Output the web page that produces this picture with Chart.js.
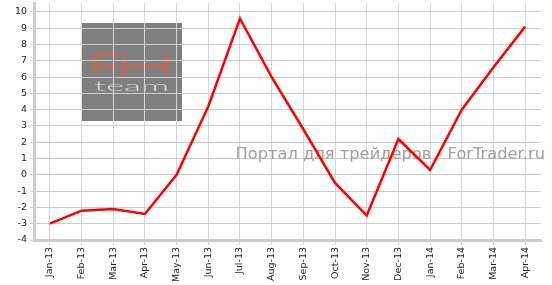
<!DOCTYPE html>
<html>
<head>
<meta charset="utf-8">
<script src="https://cdn.jsdelivr.net/npm/chart.js@4"></script>
<style>
  html, body { margin: 0; padding: 0; background: #ffffff; }
  #chart { display: block; }
</style>
</head>
<body>
<canvas id="chart" width="552" height="285"></canvas>
<script>
var months = ['Jan-13', 'Feb-13', 'Mar-13', 'Apr-13', 'May-13', 'Jun-13', 'Jul-13', 'Aug-13',
              'Sep-13', 'Oct-13', 'Nov-13', 'Dec-13', 'Jan-14', 'Feb-14', 'Mar-14', 'Apr-14'];
var values = [-3.0, -2.2, -2.1, -2.4, 0.0, 4.2, 9.6, 6.0, 2.8, -0.5, -2.5, 2.2, 0.3, 4.0, 6.6, 9.1];
var yMin = -4;
var yMax = 10.55;
var watermarkText = 'Портал для трейдеров - ForTrader.ru';

var tickFont = { family: 'DejaVu Sans', size: 9.5 };

// logo box goes under the grid
var logoPlugin = {
    id: 'logo',
    beforeDraw: function (chart) {
        var ctx = chart.ctx;
        var a = chart.chartArea;
        var x = a.left + 47, y = a.top + 20;
        ctx.save();
        ctx.fillStyle = '#7f7f7f';
        ctx.fillRect(x, y, 101, 98);

        // "FX"
        ctx.strokeStyle = '#d5604c';
        ctx.lineWidth = 2.4;
        ctx.lineCap = 'butt';
        ctx.beginPath();
        ctx.moveTo(x + 14, y + 52);
        ctx.lineTo(x + 14, y + 34.5);
        ctx.quadraticCurveTo(x + 14, y + 31.5, x + 17, y + 31.5);
        ctx.lineTo(x + 37, y + 31.5);
        ctx.moveTo(x + 14, y + 42.5);
        ctx.lineTo(x + 37, y + 42.5);

        ctx.moveTo(x + 43, y + 31);
        ctx.lineTo(x + 43, y + 39.5);
        ctx.quadraticCurveTo(x + 43, y + 42.5, x + 46, y + 42.5);
        ctx.lineTo(x + 83, y + 42.5);
        ctx.quadraticCurveTo(x + 86, y + 42.5, x + 86, y + 39.5);
        ctx.lineTo(x + 86, y + 31);
        ctx.moveTo(x + 43, y + 53);
        ctx.lineTo(x + 43, y + 45.5);
        ctx.quadraticCurveTo(x + 43, y + 42.5, x + 46, y + 42.5);
        ctx.moveTo(x + 86, y + 53);
        ctx.lineTo(x + 86, y + 45.5);
        ctx.quadraticCurveTo(x + 86, y + 42.5, x + 83, y + 42.5);
        ctx.stroke();

        // "team"
        ctx.fillStyle = '#dcdcdc';
        ctx.font = '300 17px Lato';
        ctx.textBaseline = 'alphabetic';
        var w = ctx.measureText('team').width;
        ctx.translate(x + 13, y + 68);
        ctx.scale(75 / w, 0.85);
        ctx.fillText('team', 0, 0);
        ctx.restore();
    },
    beforeDatasetsDraw: function (chart) {
        var ctx = chart.ctx;
        var a = chart.chartArea;
        ctx.save();
        ctx.font = '16.3px "DejaVu Sans"';
        ctx.fillStyle = '#a99c9c';
        ctx.textBaseline = 'alphabetic';
        ctx.textAlign = 'right';
        ctx.fillText(watermarkText, a.right + 4, a.top + 156);
        ctx.restore();
    }
};

var config = {
    type: 'line',
    data: {
        labels: months,
        datasets: [{
            data: values,
            borderColor: '#ff0000',
            borderWidth: 2.5,
            pointRadius: 0,
            pointHoverRadius: 0,
            tension: 0,
            fill: false
        }]
    },
    options: {
        responsive: false,
        animation: false,
        layout: { padding: { top: 3, right: 11, bottom: 0, left: 0 } },
        plugins: {
            legend: { display: false },
            tooltip: { enabled: false }
        },
        scales: {
            x: {
                offset: true,
                grid: { color: '#d6d6d6', offset: false, tickLength: 5, lineWidth: 1 },
                border: { color: '#cccccc', width: 3 },
                ticks: {
                    minRotation: 90,
                    maxRotation: 90,
                    autoSkip: false,
                    padding: 2,
                    color: '#222222',
                    font: tickFont
                },
                afterFit: function (s) {
                    s.height = 45;
                    s.paddingLeft = 0;
                    s.paddingRight = 0;
                }
            },
            y: {
                min: yMin,
                max: yMax,
                grid: {
                    color: function (c) { return Number.isInteger(c.tick.value) ? '#cccccc' : 'rgba(0,0,0,0)'; },
                    tickLength: 4,
                    lineWidth: 1
                },
                border: { color: '#cccccc', width: 3 },
                ticks: {
                    stepSize: 1,
                    includeBounds: false,
                    padding: 3,
                    color: '#222222',
                    font: tickFont
                },
                afterFit: function (s) {
                    s.width = 34;
                    s.paddingTop = 0;
                    s.paddingBottom = 0;
                }
            }
        }
    },
    plugins: [logoPlugin]
};

window.myChart = new Chart(document.getElementById('chart').getContext('2d'), config);
</script>
</body>
</html>
